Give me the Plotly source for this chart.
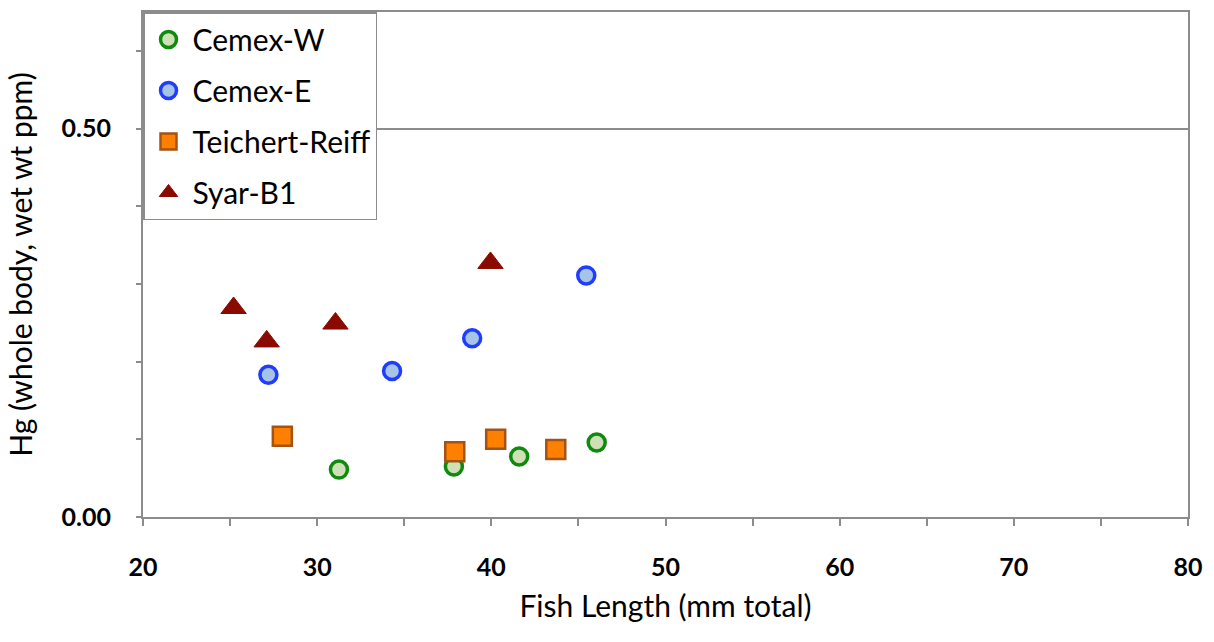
import plotly.graph_objects as go

# Data
cemex_w_x = [31.25, 37.85, 41.6, 46.05]
cemex_w_y = [0.061, 0.065, 0.078, 0.096]

cemex_e_x = [27.2, 34.3, 38.9, 45.45]
cemex_e_y = [0.183, 0.188, 0.230, 0.311]

teichert_x = [28.0, 37.9, 40.25, 43.7]
teichert_y = [0.104, 0.084, 0.100, 0.087]

syar_x = [25.2, 27.1, 31.05, 39.95]
syar_y = [0.269, 0.226, 0.249, 0.327]

FONT = "Lato"
AXIS_COLOR = "#8c8c8c"

fig = go.Figure()
fig.add_trace(go.Scatter(
    x=cemex_w_x, y=cemex_w_y, mode="markers", name="Cemex-W", legendgroup="a",
    marker=dict(symbol="circle", size=17, color="#cfe0b6", line=dict(color="#0f8a0f", width=3.5)),
))
fig.add_trace(go.Scatter(
    x=cemex_e_x, y=cemex_e_y, mode="markers", name="Cemex-E", legendgroup="b",
    marker=dict(symbol="circle", size=17, color="#a6c4e8", line=dict(color="#1f3cff", width=3.5)),
))
fig.add_trace(go.Scatter(
    x=teichert_x, y=teichert_y, mode="markers", name="Teichert-Reiff", legendgroup="c",
    marker=dict(symbol="square", size=19, color="#ff7f00", line=dict(color="#a35414", width=2.5)),
))
fig.add_trace(go.Scatter(
    x=syar_x, y=syar_y, mode="markers", name="Syar-B1", legendgroup="d",
    marker=dict(symbol="triangle-up", size=22, color="#8b0a00", line=dict(color="#8b0a00", width=1)),
))

fig.update_layout(
    width=1214, height=642,
    margin=dict(l=143, r=26, t=10, b=125),
    paper_bgcolor="white", plot_bgcolor="white",
    font=dict(family=FONT, size=22, color="black"),
    showlegend=True,
    legend=dict(
        x=0, y=1, xanchor="left", yanchor="top",
        bordercolor=AXIS_COLOR, borderwidth=1.5, bgcolor="white",
        font=dict(family=FONT, size=30, color="black"),
        tracegroupgap=9, traceorder="grouped",
        itemwidth=38,
    ),
    xaxis=dict(
        range=[20, 80], dtick=10, tick0=20,
        showline=True, linecolor=AXIS_COLOR, linewidth=2, mirror=True,
        ticks="outside", ticklen=7, tickcolor=AXIS_COLOR, tickwidth=1.5,
        minor=dict(dtick=5, ticks="outside", ticklen=7, tickcolor=AXIS_COLOR, tickwidth=1.5, showgrid=False),
        showgrid=False, zeroline=False,
        tickfont=dict(family=FONT, size=25, weight="bold"),
        ticklabelstandoff=20,
        title=dict(text="Fish Length (mm total)", font=dict(family=FONT, size=30), standoff=16),
    ),
    yaxis=dict(
        range=[0, 0.65], dtick=0.5, tick0=0, tickformat=".2f",
        showline=True, linecolor=AXIS_COLOR, linewidth=2, mirror=True,
        ticks="outside", ticklen=5, tickcolor=AXIS_COLOR, tickwidth=1.5,
        minor=dict(dtick=0.1, ticks="outside", ticklen=5, tickcolor=AXIS_COLOR, tickwidth=1.5, showgrid=False),
        showgrid=True, gridcolor=AXIS_COLOR, gridwidth=1.5, zeroline=False,
        tickfont=dict(family=FONT, size=25, weight="bold"),
        ticklabelstandoff=20,
        title=dict(text="Hg (whole body, wet wt ppm)", font=dict(family=FONT, size=30), standoff=20),
    ),
)

fig.write_html("out.html")
